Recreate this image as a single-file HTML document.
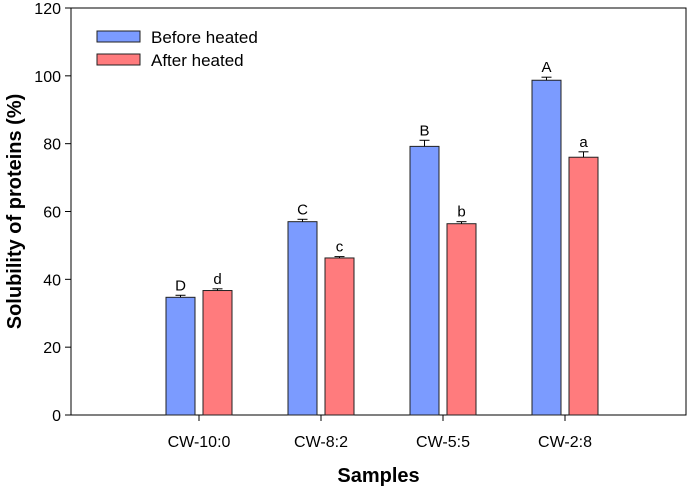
<!DOCTYPE html>
<html><head><meta charset="utf-8"><style>
body{margin:0;background:#fff;font-family:"Liberation Sans",Arial,sans-serif}
</style></head><body>
<svg id="chart" width="690" height="491" xmlns="http://www.w3.org/2000/svg" font-family="Liberation Sans, Arial, sans-serif"></svg>
<script>
const categories=["CW-10:0","CW-8:2","CW-5:5","CW-2:8"];
const beforeVals=[34.7,57.0,79.2,98.7];
const beforeErr=[0.6,0.7,1.8,0.9];
const afterVals=[36.7,46.3,56.4,76.0];
const afterErr=[0.5,0.4,0.6,1.6];
const beforeLetters=["D","C","B","A"];
const afterLetters=["d","c","b","a"];
const yTicks=[0,20,40,60,80,100,120];

const svg=document.getElementById('chart');
const NS='http://www.w3.org/2000/svg';
const L=71,R=686,T=8,B=415;
const y=v=>B-(v/120)*(B-T);
const x=i=>199+i*122;
function mk(tag,attrs,name,text){const e=document.createElementNS(NS,tag);for(const k in attrs)e.setAttribute(k,attrs[k]);


if(text!==undefined)e.textContent=text;svg.appendChild(e);return e;}
mk('rect',{x:L,y:T,width:R-L,height:B-T,fill:'none',stroke:'#000','stroke-width':1},'plot-frame');
yTicks.forEach(t=>{mk('line',{x1:L-6,x2:L,y1:y(t),y2:y(t),stroke:'#000'},'y-tick');
mk('text',{x:L-10,y:y(t)+6,'text-anchor':'end','font-size':16},'y-tick-label',String(t));});
function bars(vals,errs,letters,off,fill,name){vals.forEach((v,i)=>{const x0=x(i)+off;
mk('rect',{x:x0,y:y(v),width:29,height:B-y(v),fill:fill,stroke:'#222','stroke-width':1},name);
const cx=x0+14.5;
mk('line',{x1:cx,x2:cx,y1:y(v),y2:y(v+errs[i]),stroke:'#000'},'error-bar');
mk('line',{x1:cx-5,x2:cx+5,y1:y(v+errs[i]),y2:y(v+errs[i]),stroke:'#000'},'error-cap');
mk('text',{x:cx,y:y(v+errs[i])-5,'text-anchor':'middle','font-size':15},'significance-letter',letters[i]);});}
bars(beforeVals,beforeErr,beforeLetters,-33,'#7b9bff','bar-before-heated');
bars(afterVals,afterErr,afterLetters,4,'#ff7b7d','bar-after-heated');
categories.forEach((c,i)=>{mk('line',{x1:x(i),x2:x(i),y1:B,y2:B+6,stroke:'#000'},'x-tick');
mk('text',{x:x(i),y:B+32,'text-anchor':'middle','font-size':16},'x-tick-label',c);});
mk('text',{x:(L+R)/2,y:482,'text-anchor':'middle','font-size':20,'font-weight':'bold'},'x-axis-title','Samples');
mk('text',{x:0,y:0,'text-anchor':'middle','font-size':20,'font-weight':'bold',transform:'translate(21,'+((T+B)/2)+') rotate(-90)'},'y-axis-title','Solubility of proteins (%)');
mk('rect',{x:97,y:31,width:43,height:11,fill:'#7b9bff',stroke:'#222'},'legend-swatch-before');
mk('text',{x:151,y:43,'font-size':17},'legend-label-before','Before heated');
mk('rect',{x:97,y:54,width:43,height:11,fill:'#ff7b7d',stroke:'#222'},'legend-swatch-after');
mk('text',{x:151,y:66,'font-size':17},'legend-label-after','After heated');
</script>
</body></html>
